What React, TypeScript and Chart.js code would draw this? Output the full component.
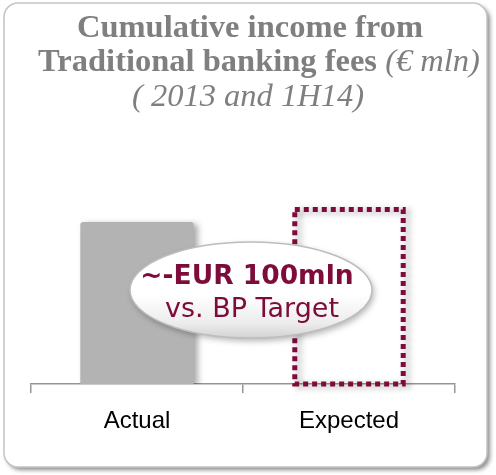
import React, { useEffect, useRef } from "react";
import { Chart, registerables } from "chart.js";

Chart.register(...registerables);

const categories = ["Actual", "Expected"];
const incomeValues = [1080, 1180];
const yMax = 1560;
const titleLine1 = "Cumulative income from";
const titleLine2Bold = "Traditional banking fees ";
const titleLine2Italic = "(€ mln)";
const titleLine3 = "( 2013 and 1H14)";
const calloutLines = ["~-EUR 100mln", "vs. BP Target"];

const MAROON = "#7d0c3a";
const TITLE_GRAY = "#7f7f7f";

function roundRect(ctx: CanvasRenderingContext2D, x: number, y: number, w: number, h: number, r: number) {
  ctx.beginPath();
  ctx.moveTo(x + r, y);
  ctx.lineTo(x + w - r, y);
  ctx.arcTo(x + w, y, x + w, y + r, r);
  ctx.lineTo(x + w, y + h - r);
  ctx.arcTo(x + w, y + h, x + w - r, y + h, r);
  ctx.lineTo(x + r, y + h);
  ctx.arcTo(x, y + h, x, y + h - r, r);
  ctx.lineTo(x, y + r);
  ctx.arcTo(x, y, x + r, y, r);
  ctx.closePath();
}

const framePlugin = {
  id: "frame",
  beforeDraw(chart: any) {
    const ctx = chart.ctx as CanvasRenderingContext2D;
    ctx.save();
    ctx.shadowColor = "rgba(0,0,0,0.45)";
    ctx.shadowBlur = 4;
    ctx.shadowOffsetX = 3;
    ctx.shadowOffsetY = 3;
    roundRect(ctx, 4, 3, 483, 464, 14);
    ctx.fillStyle = "#ffffff";
    ctx.fill();
    ctx.restore();
    ctx.save();
    roundRect(ctx, 4, 3, 483, 464, 14);
    ctx.strokeStyle = "#c4c4c4";
    ctx.lineWidth = 1.5;
    ctx.stroke();
    ctx.restore();
  },
  beforeDatasetsDraw(chart: any) {
    const ctx = chart.ctx as CanvasRenderingContext2D;
    ctx.save();
    ctx.shadowColor = "rgba(0,0,0,0.35)";
    ctx.shadowBlur = 6;
    ctx.shadowOffsetX = 4;
    ctx.shadowOffsetY = 2;
  },
  afterDatasetsDraw(chart: any) {
    const ctx = chart.ctx as CanvasRenderingContext2D;
    const meta = chart.getDatasetMeta(0);
    const el = meta.data[1];
    if (el) {
      const p = el.getProps(["x", "y", "base", "width"], true);
      const lw = 5;
      const left = p.x - p.width / 2;
      ctx.lineWidth = lw;
      ctx.strokeStyle = MAROON;
      ctx.setLineDash([5, 4]);
      ctx.lineCap = "butt";
      ctx.strokeRect(left + lw / 2, p.y + lw / 2, p.width - lw, p.base - p.y - lw / 2);
      ctx.setLineDash([]);
    }
    ctx.restore();
  },
  afterDraw(chart: any) {
    const ctx = chart.ctx as CanvasRenderingContext2D;
    // Title
    const cx = 250;
    ctx.save();
    ctx.fillStyle = TITLE_GRAY;
    ctx.textBaseline = "alphabetic";
    ctx.textAlign = "left";
    const boldFont = "bold 32.5px 'Liberation Serif', 'Times New Roman', serif";
    const italicFont = "italic 32.5px 'Liberation Serif', 'Times New Roman', serif";
    ctx.font = boldFont;
    let w = ctx.measureText(titleLine1).width;
    ctx.fillText(titleLine1, cx - w / 2, 37);
    const wb = ctx.measureText(titleLine2Bold).width;
    ctx.font = italicFont;
    const wi = ctx.measureText(titleLine2Italic).width;
    const start = cx + 9 - (wb + wi) / 2;
    ctx.font = boldFont;
    ctx.fillText(titleLine2Bold, start, 71);
    ctx.font = italicFont;
    ctx.fillText(titleLine2Italic, start + wb, 71);
    w = ctx.measureText(titleLine3).width;
    ctx.fillText(titleLine3, cx - 2 - w / 2, 106);
    ctx.restore();

    // Callout ellipse
    const ex = 251, ey = 290, rx = 121, ry = 48;
    ctx.save();
    ctx.shadowColor = "rgba(0,0,0,0.3)";
    ctx.shadowBlur = 6;
    ctx.shadowOffsetX = 2;
    ctx.shadowOffsetY = 3;
    const g = ctx.createLinearGradient(0, ey - ry, 0, ey + ry);
    g.addColorStop(0, "#ffffff");
    g.addColorStop(0.55, "#ffffff");
    g.addColorStop(0.85, "#ececec");
    g.addColorStop(1, "#d2d2d2");
    ctx.beginPath();
    ctx.ellipse(ex, ey, rx, ry, 0, 0, Math.PI * 2);
    ctx.fillStyle = g;
    ctx.fill();
    ctx.restore();
    ctx.save();
    ctx.beginPath();
    ctx.ellipse(ex, ey, rx, ry, 0, 0, Math.PI * 2);
    ctx.strokeStyle = "#bdbdbd";
    ctx.lineWidth = 1.5;
    ctx.stroke();
    ctx.fillStyle = MAROON;
    ctx.textAlign = "center";
    ctx.textBaseline = "alphabetic";
    ctx.font = "bold 26.5px 'DejaVu Sans', Verdana, sans-serif";
    ctx.fillText(calloutLines[0], 247, 284);
    ctx.font = "27px 'DejaVu Sans', Verdana, sans-serif";
    ctx.fillText(calloutLines[1], 252, 317);
    ctx.restore();
  },
};

export default function App() {
  const canvasRef = useRef<HTMLCanvasElement | null>(null);

  useEffect(() => {
    if (!canvasRef.current) return;
    const chart = new Chart(canvasRef.current, {
      type: "bar",
      data: {
        labels: categories,
        datasets: [
          {
            label: "Cumulative income",
            data: incomeValues,
            backgroundColor: ["#b3b3b3", "rgba(0,0,0,0)"],
            borderWidth: 0,
            borderRadius: { topLeft: 3, topRight: 3, bottomLeft: 0, bottomRight: 0 },
            borderSkipped: false,
            barPercentage: 0.535,
            categoryPercentage: 1,
          },
        ],
      },
      options: {
        responsive: false,
        animation: false,
        layout: { padding: { left: 31, right: 41, top: 150, bottom: 0 } },
        plugins: {
          legend: { display: false },
          title: { display: false },
          tooltip: { enabled: false },
        },
        scales: {
          y: { display: false, min: 0, max: yMax },
          x: {
            afterFit: (s: any) => {
              s.height = 91;
            },
            grid: {
              display: true,
              drawOnChartArea: false,
              drawTicks: true,
              tickLength: 9,
              color: "#959595",
              lineWidth: 1.5,
              offset: true,
            },
            border: { display: true, color: "#959595", width: 1.5 },
            ticks: {
              color: "#000000",
              padding: 14,
              font: { family: "'Liberation Sans', Arial, sans-serif", size: 24 },
            },
          },
        },
      },
      plugins: [framePlugin],
    });
    return () => chart.destroy();
  }, []);

  return (
    <div style={{ position: "fixed", left: 0, top: 0, width: 496, height: 475 }}>
      <canvas ref={canvasRef} width={496} height={475} style={{ display: "block" }} />
    </div>
  );
}
